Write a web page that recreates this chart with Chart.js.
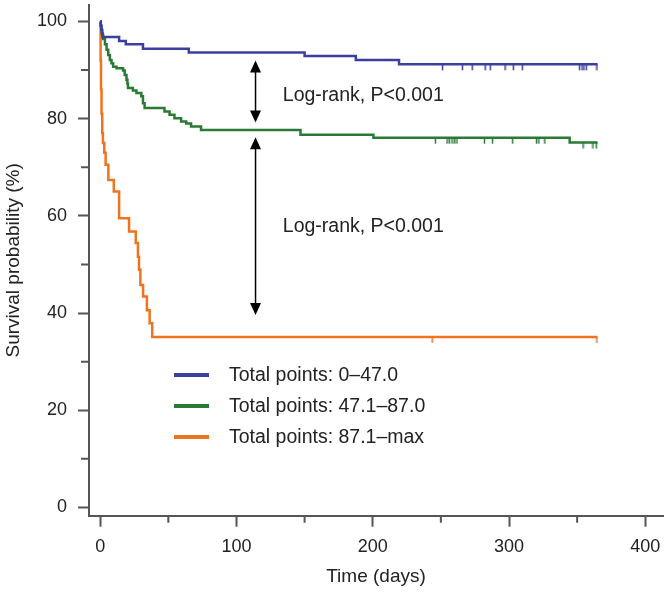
<!DOCTYPE html>
<html>
<head>
<meta charset="utf-8">
<script src="https://cdn.jsdelivr.net/npm/chart.js@4.4.1/dist/chart.umd.min.js"></script>
<style>
  html, body { margin: 0; padding: 0; background: #fff; }
  #wrap { width: 668px; height: 592px; }
</style>
</head>
<body>
<div id="wrap"><canvas id="km" width="668" height="592"></canvas></div>
<script>
// groups by total nomogram points
const groupLabels = ['Total points: 0\u201347.0', 'Total points: 47.1\u201387.0', 'Total points: 87.1\u2013max'];

// Kaplan-Meier steps: time (days) -> survival (%) from that time on
const lowTime = [0, 0.4, 0.8, 1.2, 1.7, 13.9, 18.8, 31.4, 65, 150, 187.6, 219.3, 365];
const lowSurv = [100, 99.2, 98.4, 97.6, 96.8, 96.0, 95.3, 94.4, 93.6, 92.9, 92.1, 91.2, 91.2];
const lowCensor = [251.2, 265.8, 273, 282.5, 286.2, 297.1, 303.2, 309.8, 351.8, 353.6, 355, 356.7, 364.5];

const midTime = [0, 0.5, 1, 1.6, 2.2, 3.5, 4.7, 5.9, 7.1, 8.3, 9.5, 12, 16.8, 18, 19.3, 20, 20.4, 24, 26.6,
  30.2, 31.4, 32.6, 47.2, 50.9, 54.5, 59.4, 63.1, 66.7, 74, 147, 200.5, 344.5, 365];
const midSurv = [100, 99.1, 98.2, 97.3, 96.4, 95.3, 94.2, 93.1, 92.1, 91.4, 90.7, 90.4, 89.9, 89.0, 88.0, 87.2, 86.3, 85.8, 85.3,
  84.6, 83.2, 82.2, 81.5, 80.8, 80.1, 79.4, 79.0, 78.4, 77.7, 76.7, 76.1, 75.1, 75.1];
const midCensor = [246, 254.5, 256.2, 258.2, 260.1, 261.8, 282, 287.9, 302.7, 320.2, 321.9, 326.3, 354.3, 361.6, 364];

const highTime = [0, 0.3, 0.6, 1, 1.5, 2, 3, 4, 6, 10, 13.9, 21.2, 26.1, 27.7, 28.5, 29.5, 31.5, 34.3, 36.3, 38.2, 365];
const highSurv = [100, 92, 86, 81, 77, 75, 73, 70.5, 67.4, 65.0, 59.5, 56.8, 54.4, 51.6, 48.9, 45.8, 43.4, 40.6, 37.9, 35.1, 35.1];
const highCensor = [243.6, 364.5];

const xTicks = [0, 50, 100, 150, 200, 250, 300, 350, 400];
const yTicks = [0, 10, 20, 30, 40, 50, 60, 70, 80, 90, 100];

// log-rank annotations: arrow at day, from %, to %
const arrowDay = [114, 114];
const arrowFrom = [92.0, 76.2];
const arrowTo = [79.2, 39.6];
const noteDay = [134, 134];
const noteSurv = [84.7, 57.7];
const noteText = 'Log-rank, P<0.001';

const colors = ['#3b3f9d', '#2a7a36', '#f0731f'];
const axisColor = '#555';
const textColor = '#222';
const FONT = '"Liberation Sans", Arial, Helvetica, sans-serif';

function survAt(times, surv, t) {
  let v = surv[0];
  for (let i = 0; i < times.length; i++) {
    if (times[i] <= t) v = surv[i];
  }
  return v;
}

function censorMark(color) {
  const c = document.createElement('canvas');
  c.width = 3;
  c.height = 14;
  const g = c.getContext('2d');
  g.fillStyle = color;
  g.fillRect(0.75, 7, 1.5, 6);
  return c;
}

const groups = [
  [lowTime, lowSurv, lowCensor],
  [midTime, midSurv, midCensor],
  [highTime, highSurv, highCensor],
];

const datasets = [];
groups.forEach(([times, surv], i) => {
  datasets.push({
    label: groupLabels[i],
    data: times.map((t, j) => ({ x: t, y: surv[j] })),
    borderColor: colors[i],
    borderWidth: 2.5,
    stepped: true,
    pointRadius: 0,
    fill: false,
    order: 2,
  });
});
groups.forEach(([times, surv, censor], i) => {
  datasets.push({
    label: 'censor' + i,
    data: censor.map(t => ({ x: t, y: survAt(times, surv, t) })),
    showLine: false,
    pointStyle: censorMark(colors[i]),
    pointRadius: 3,
    order: 1,
  });
});

const _minorTicks = {
  id: 'minorTicks',
  afterDraw(chart) {
    const { ctx, scales: { x, y } } = chart;
    ctx.save();
    ctx.strokeStyle = axisColor;
    ctx.lineWidth = 2;
    ctx.beginPath();
    xTicks.filter(v => v % 100).forEach(v => {
      const px = x.getPixelForValue(v);
      ctx.moveTo(px, x.top);
      ctx.lineTo(px, x.top + 7);
    });
    yTicks.filter(v => v % 20).forEach(v => {
      const py = y.getPixelForValue(v);
      ctx.moveTo(y.right, py);
      ctx.lineTo(y.right - 8, py);
    });
    ctx.stroke();
    ctx.restore();
  },
};

const _annotations = {
  id: 'logRank',
  afterDatasetsDraw(chart) {
    const { ctx, scales: { x, y } } = chart;
    ctx.save();
    ctx.strokeStyle = '#000';
    ctx.fillStyle = '#000';
    ctx.lineWidth = 1.5;
    arrowDay.forEach((d, i) => {
      const px = x.getPixelForValue(d);
      const y1 = y.getPixelForValue(arrowFrom[i]);
      const y2 = y.getPixelForValue(arrowTo[i]);
      const head = 12, half = 5.5;
      ctx.beginPath();
      ctx.moveTo(px, y1 + head - 1);
      ctx.lineTo(px, y2 - head + 1);
      ctx.stroke();
      ctx.beginPath();
      ctx.moveTo(px, y1);
      ctx.lineTo(px - half, y1 + head);
      ctx.lineTo(px + half, y1 + head);
      ctx.closePath();
      ctx.fill();
      ctx.beginPath();
      ctx.moveTo(px, y2);
      ctx.lineTo(px - half, y2 - head);
      ctx.lineTo(px + half, y2 - head);
      ctx.closePath();
      ctx.fill();
    });
    ctx.font = '19.5px ' + FONT;
    ctx.fillStyle = textColor;
    ctx.textAlign = 'left';
    ctx.textBaseline = 'middle';
    noteDay.forEach((d, i) => {
      ctx.fillText(noteText, x.getPixelForValue(d), y.getPixelForValue(noteSurv[i]));
    });

    // legend
    const left = chart.chartArea.left;
    const rows = [375, 406, 437];
    ctx.lineWidth = 4;
    groupLabels.forEach((label, i) => {
      ctx.strokeStyle = colors[i];
      ctx.beginPath();
      ctx.moveTo(left + 85, rows[i]);
      ctx.lineTo(left + 120, rows[i]);
      ctx.stroke();
      ctx.fillText(label, left + 140, rows[i] + 1);
    });
    ctx.restore();
  },
};

new Chart(document.getElementById('km'), {
  type: 'line',
  data: { datasets },
  options: {
    responsive: false,
    animation: false,
    devicePixelRatio: 1,
    layout: { padding: { left: 0, right: 2, top: 5, bottom: 0 } },
    plugins: {
      legend: { display: false },
      tooltip: { enabled: false },
    },
    scales: {
      x: {
        type: 'linear',
        min: -8.2,
        max: 413,
        afterBuildTicks: s => { s.ticks = xTicks.map(v => ({ value: v })); },
        afterFit: s => {
          s.height = 76.3;
          s.paddingLeft = 0;
          s.paddingRight = 0;
        },
        border: { color: axisColor, width: 2 },
        grid: {
          drawOnChartArea: false,
          tickLength: 11,
          tickWidth: 2,
          tickColor: c => (c.tick && c.tick.value % 100 === 0 ? axisColor : 'rgba(0,0,0,0)'),
        },
        ticks: {
          autoSkip: false,
          maxRotation: 0,
          padding: 10,
          color: textColor,
          font: { family: FONT, size: 18 },
          callback: v => (v % 100 === 0 ? String(v) : ''),
        },
        title: {
          display: true,
          text: 'Time (days)',
          color: textColor,
          font: { family: FONT, size: 19 },
          padding: { top: 4, bottom: 4 },
        },
      },
      y: {
        min: -1.7,
        max: 103.4,
        afterBuildTicks: s => { s.ticks = yTicks.map(v => ({ value: v })); },
        afterFit: s => {
          s.width = 89;
          s.paddingTop = 0;
          s.paddingBottom = 0;
        },
        border: { color: axisColor, width: 2 },
        grid: {
          drawOnChartArea: false,
          tickLength: 11,
          tickWidth: 2,
          tickColor: c => (c.tick && c.tick.value % 20 === 0 ? axisColor : 'rgba(0,0,0,0)'),
        },
        ticks: {
          autoSkip: false,
          padding: 11,
          color: textColor,
          font: { family: FONT, size: 18 },
          callback: v => (v % 20 === 0 ? String(v) : ''),
        },
        title: {
          display: true,
          text: 'Survival probability (%)',
          color: textColor,
          font: { family: FONT, size: 19 },
          padding: { top: 2, bottom: 2 },
        },
      },
    },
  },
  plugins: [_minorTicks, _annotations],
});
</script>
</body>
</html>
